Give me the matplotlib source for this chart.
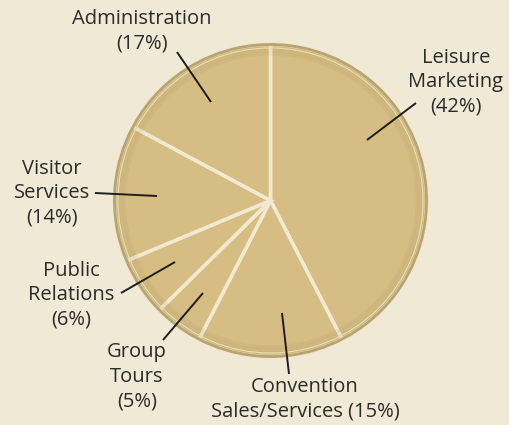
import matplotlib
matplotlib.use("Agg")
import matplotlib.pyplot as plt
from matplotlib.patches import Circle

# ---------------- data ----------------
categories = ["Leisure\nMarketing", "Convention\nSales/Services", "Group\nTours",
              "Public\nRelations", "Visitor\nServices", "Administration"]
shares = [42, 15, 5, 6, 14, 17]

# ---------------- style ----------------
BG = "#F0E9D6"
PIE = "#D5BD83"
PIE_EDGE = "#B9A36F"
SEP = "#F1E9D0"
TEXT = "#2B2B2B"
FONT = "Open Sans"

W, H = 509, 425
CX, CY, R = 270.5, 200.5, 156

# label layout in pixel coords (x, y from top), text anchor and leader tip
labels = [
    ("Leisure\nMarketing\n(42%)", (456, 82), (416, 103), (367, 140)),
    ("Convention\nSales/Services (15%)", (305, 399), (289, 374), (282, 313)),
    ("Group\nTours\n(5%)", (137, 377), (163, 340), (203, 293)),
    ("Public\nRelations\n(6%)", (71, 295), (121, 293), (175, 262)),
    ("Visitor\nServices\n(14%)", (52, 193), (95, 193), (157, 196)),
    ("Administration\n(17%)", (142, 31), (177, 52), (211, 102)),
]

fig = plt.figure(figsize=(W / 100, H / 100), dpi=100)
fig.patch.set_facecolor(BG)
ax = fig.add_axes([0, 0, 1, 1])

ax.pie(shares, startangle=90, counterclock=False, center=(CX, H - CY), radius=R,
       colors=[PIE] * len(shares), frame=True,
       wedgeprops=dict(edgecolor=SEP, linewidth=2.6))

# soft darkening toward the rim
for i, a in enumerate([0.05, 0.05, 0.06, 0.07]):
    ax.add_patch(Circle((CX, H - CY), R - i * 3, fill=False,
                        edgecolor="#8C7440", linewidth=3, alpha=a))
ax.add_patch(Circle((CX, H - CY), R - 3.5, fill=False, edgecolor="#EADDB5", linewidth=0.8))
ax.add_patch(Circle((CX, H - CY), R, fill=False, edgecolor=PIE_EDGE, linewidth=2))

for text, (tx, ty), (lx, ly), (px, py) in labels:
    ax.text(tx, H - ty, text, ha="center", va="center", fontsize=14.5,
            family=FONT, color=TEXT, linespacing=1.3)
    ax.plot([lx, px], [H - ly, H - py], color="#1E1E1E", linewidth=1.4,
            solid_capstyle="butt")

ax.set_xlim(0, W)
ax.set_ylim(0, H)
ax.set_aspect("auto")
ax.axis("off")

plt.savefig("out.png", dpi=100, facecolor=BG)
plt.close()
